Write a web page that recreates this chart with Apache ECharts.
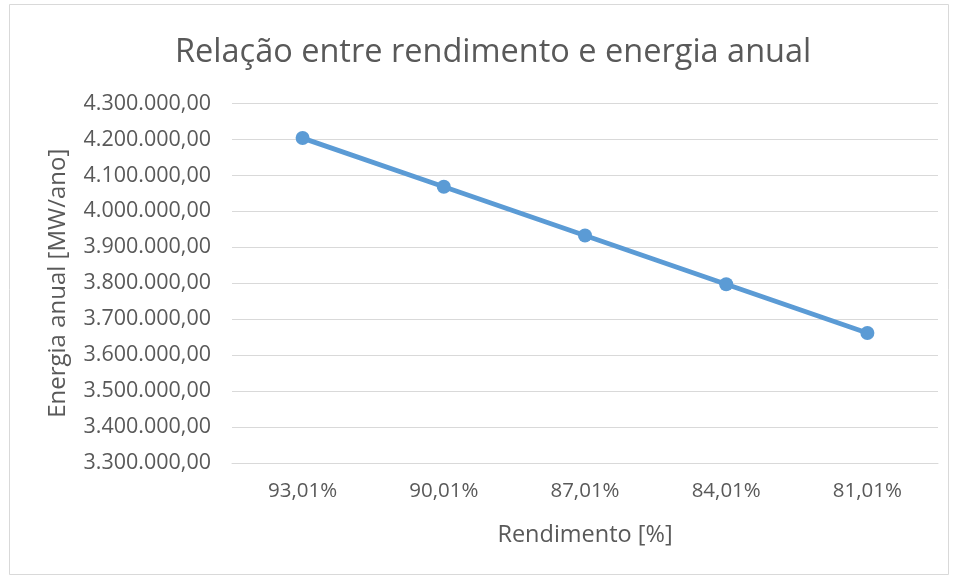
<!DOCTYPE html>
<html><head><meta charset="utf-8">
<script src="https://cdn.jsdelivr.net/npm/echarts@6/dist/echarts.min.js"></script>
<style>html,body{margin:0;padding:0;background:#fff}#c{width:958px;height:579px}</style>
</head><body><div id="c"></div>
<script>
const categories = ["93,01%", "90,01%", "87,01%", "84,01%", "81,01%"];
const energia = [4204000, 4068400, 3932800, 3797200, 3661600];
const yMin = 3300000, yMax = 4300000, yStep = 100000;
const titleText = "Relação entre rendimento e energia anual";
const xName = "Rendimento [%]";
const yName = "Energia anual [MW/ano]";

function fmtBR(v) {
  const s = Math.round(v).toString().replace(/\B(?=(\d{3})+(?!\d))/g, ".");
  return s + ",00";
}
const txt = '#595959';
const font = '"Open Sans", "Noto Sans", sans-serif';
const chart = echarts.init(document.getElementById('c'), null, {renderer: 'canvas'});
chart.setOption({
  animation: false,
  backgroundColor: '#fff',
  graphic: [{type: 'rect', shape: {x: 9.5, y: 4.5, width: 939, height: 570}, style: {fill: 'none', stroke: '#D9D9D9', lineWidth: 1}, silent: true}],
  title: {text: titleText, left: 170, top: 31, textStyle: {color: txt, fontSize: 32.5, fontWeight: 'normal', fontFamily: font}},
  grid: {left: 232, right: 20, top: 103.5, bottom: 116, containLabel: false},
  xAxis: {
    type: 'category', data: categories, boundaryGap: true,
    name: xName, nameLocation: 'middle', nameGap: 60,
    nameTextStyle: {color: txt, fontSize: 23.5, fontFamily: font},
    axisLine: {show: true, lineStyle: {color: '#D9D9D9', width: 1}},
    axisTick: {show: false},
    axisLabel: {color: txt, fontSize: 20.5, fontFamily: font, margin: 18}
  },
  yAxis: {
    type: 'value', min: yMin, max: yMax, interval: yStep,
    name: yName, nameLocation: 'middle', nameGap: 162, nameRotate: 90,
    nameTextStyle: {color: txt, fontSize: 24, fontFamily: font},
    axisLine: {show: false}, axisTick: {show: false},
    axisLabel: {color: txt, fontSize: 21.5, fontFamily: font, margin: 21, formatter: fmtBR},
    splitLine: {lineStyle: {color: '#D9D9D9', width: 1}}
  },
  series: [{
    type: 'line', data: energia,
    symbol: 'circle', symbolSize: 14,
    lineStyle: {color: '#5B9BD5', width: 5},
    itemStyle: {color: '#5B9BD5'}
  }]
});
</script></body></html>
